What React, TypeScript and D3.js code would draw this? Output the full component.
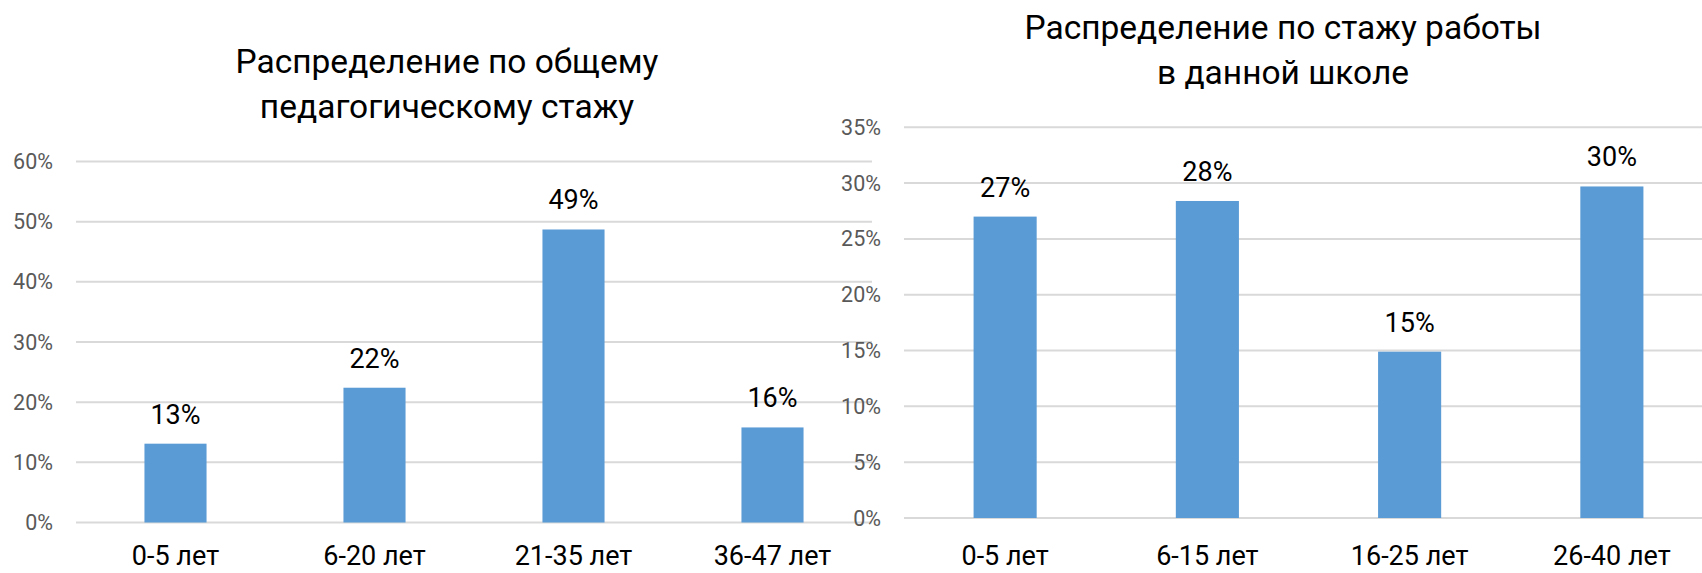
import { useEffect, useRef } from 'react'
import * as d3 from 'd3'

const WIDTH = 1702
const HEIGHT = 573
const FONT = 'Roboto, "Noto Sans", sans-serif'

// left chart: общий педагогический стаж
const leftTitle = ['Распределение по общему', 'педагогическому стажу']
const leftCategories = ['0-5 лет', '6-20 лет', '21-35 лет', '36-47 лет']
const leftValues = [0.131, 0.224, 0.487, 0.158]
const leftTicks = [0, 0.1, 0.2, 0.3, 0.4, 0.5, 0.6]

// right chart: стаж работы в данной школе
const rightTitle = ['Распределение по стажу работы', 'в данной школе']
const rightCategories = ['0-5 лет', '6-15 лет', '16-25 лет', '26-40 лет']
const rightValues = [0.27, 0.284, 0.149, 0.297]
const rightTicks = [0, 0.05, 0.1, 0.15, 0.2, 0.25, 0.3, 0.35]

const pct = d3.format('.0%')

function BarChart({ title, categories, values, ticks, x0, x1, y0, y1, tickRight, titleX, titleY }) {
  const gRef = useRef(null)

  useEffect(() => {
    if (!gRef.current) return
    const g = d3.select(gRef.current)
    g.selectAll('*').remove()

    const xScale = d3.scaleBand()
      .domain(categories)
      .range([x0, x1])
      .paddingInner(0.688)
      .paddingOuter(0.344)

    const yScale = d3.scaleLinear()
      .domain([0, ticks[ticks.length - 1]])
      .range([y0, y1])

    // Grid lines
    g.append('g')
      .selectAll('line')
      .data(ticks)
      .enter()
      .append('line')
      .attr('x1', x0)
      .attr('x2', x1)
      .attr('y1', d => yScale(d))
      .attr('y2', d => yScale(d))
      .attr('stroke', '#d9d9d9')
      .attr('stroke-width', 2)

    // Bars
    g.append('g')
      .selectAll('rect')
      .data(values)
      .enter()
      .append('rect')
      .attr('x', (d, i) => xScale(categories[i]))
      .attr('width', xScale.bandwidth())
      .attr('y', d => yScale(d))
      .attr('height', d => yScale(0) - yScale(d))
      .attr('fill', '#5b9bd5')

    // Data labels
    g.append('g')
      .selectAll('text')
      .data(values)
      .enter()
      .append('text')
      .attr('x', (d, i) => xScale(categories[i]) + xScale.bandwidth() / 2)
      .attr('y', d => yScale(d) - 20)
      .attr('text-anchor', 'middle')
      .attr('font-family', FONT)
      .attr('font-size', 27)
      .attr('fill', '#000')
      .text(d => pct(d))

    // Y tick labels
    g.append('g')
      .selectAll('text')
      .data(ticks)
      .enter()
      .append('text')
      .attr('x', tickRight)
      .attr('y', d => yScale(d))
      .attr('dy', '0.35em')
      .attr('text-anchor', 'end')
      .attr('font-family', FONT)
      .attr('font-size', 21.5)
      .attr('fill', '#595959')
      .text(d => pct(d))

    // Category labels (sit right at the bottom edge, like the original)
    g.append('g')
      .selectAll('text')
      .data(categories)
      .enter()
      .append('text')
      .attr('x', d => xScale(d) + xScale.bandwidth() / 2)
      .attr('y', 565)
      .attr('text-anchor', 'middle')
      .attr('font-family', FONT)
      .attr('font-size', 27)
      .attr('fill', '#000')
      .text(d => d)

    // Title
    g.append('g')
      .selectAll('text')
      .data(title)
      .enter()
      .append('text')
      .attr('x', titleX)
      .attr('y', (d, i) => titleY + i * 45)
      .attr('text-anchor', 'middle')
      .attr('font-family', FONT)
      .attr('font-size', 33.5)
      .attr('fill', '#000')
      .text(d => d)
  }, [title, categories, values, ticks])

  return <g ref={gRef} />
}

export default function App() {
  return (
    <svg
      width={WIDTH}
      height={HEIGHT}
      style={{ position: 'absolute', left: 0, top: 0, background: '#fff', display: 'block' }}
    >
      <rect width={WIDTH} height={HEIGHT} fill="#fff" />
      <BarChart
        title={leftTitle}
        categories={leftCategories}
        values={leftValues}
        ticks={leftTicks}
        x0={76}
        x1={872}
        y0={522.5}
        y1={161.5}
        tickRight={53}
        titleX={447}
        titleY={73}
      />
      <BarChart
        title={rightTitle}
        categories={rightCategories}
        values={rightValues}
        ticks={rightTicks}
        x0={904}
        x1={1713}
        y0={518}
        y1={127.3}
        tickRight={881}
        titleX={1283}
        titleY={39}
      />
    </svg>
  )
}
